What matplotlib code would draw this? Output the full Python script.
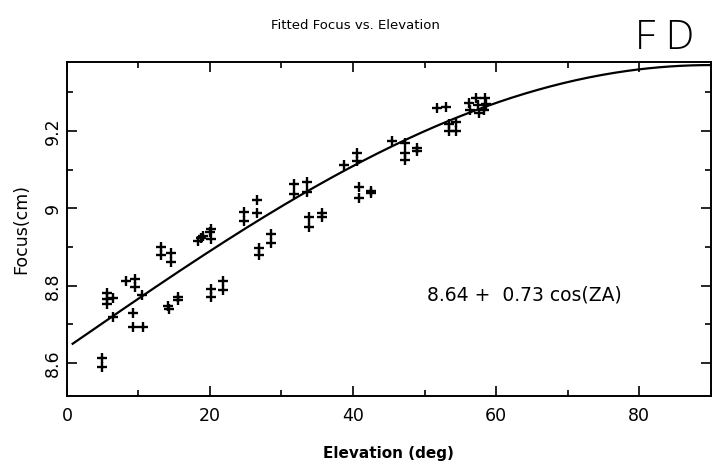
import numpy as np
import matplotlib
matplotlib.use('Agg')
import matplotlib.pyplot as plt
from matplotlib.ticker import MultipleLocator

# measured focus positions (elevation in deg, focus in cm)
elev = [4.9, 4.9,
        5.6, 5.6, 5.6, 6.4, 6.4,
        8.3, 9.5, 9.5, 10.5,
        9.3, 9.3, 10.6,
        13.1, 13.1, 14.5, 14.5,
        14.2, 14.3, 15.6, 15.6,
        18.3, 18.7, 19.0, 20.0, 20.2, 20.2,
        20.1, 20.1, 21.8, 21.8,
        24.8, 24.8, 26.6, 26.6,
        26.9, 26.9, 28.6, 28.6,
        31.8, 31.8, 33.6, 33.6,
        33.9, 33.9, 35.6, 35.6,
        38.8, 40.6, 40.6,
        40.9, 40.9, 42.5, 42.5,
        45.5, 47.3, 47.3, 47.3, 49.0, 49.0,
        51.7, 53.0, 53.4, 53.4, 54.4, 54.4,
        56.2, 56.3, 57.2, 57.5, 58.5, 58.6, 57.6, 58.3]
focus = [8.613, 8.590,
         8.781, 8.765, 8.752, 8.768, 8.719,
         8.813, 8.818, 8.797, 8.776,
         8.729, 8.693, 8.693,
         8.899, 8.879, 8.884, 8.861,
         8.747, 8.740, 8.770, 8.763,
         8.915, 8.923, 8.928, 8.938, 8.946, 8.920,
         8.791, 8.770, 8.811, 8.788,
         8.990, 8.966, 9.021, 8.987,
         8.897, 8.879, 8.933, 8.910,
         9.062, 9.036, 9.067, 9.041,
         8.977, 8.953, 8.987, 8.977,
         9.111, 9.142, 9.121,
         9.054, 9.026, 9.046, 9.039,
         9.175, 9.168, 9.142, 9.124, 9.155, 9.147,
         9.259, 9.261, 9.219, 9.199, 9.222, 9.199,
         9.271, 9.255, 9.286, 9.268, 9.286, 9.270, 9.245, 9.255]

# fit: focus = a + b cos(ZA), ZA = 90 - elevation
fit_a = 8.64
fit_b = 0.73

fig = plt.figure(figsize=(7.12, 4.66), dpi=100)
ax = fig.add_axes([0.094, 0.150, 0.904, 0.717])

el = np.linspace(0.8, 90, 300)
ax.plot(el, fit_a + fit_b*np.cos(np.radians(90 - el)), color='black', lw=1.6)
ax.plot(elev, focus, ls='none', marker='+', ms=7, mew=1.7, color='black')

ax.set_xlim(0, 90)
ax.set_ylim(8.515, 9.378)
ax.xaxis.set_major_locator(MultipleLocator(20))
ax.xaxis.set_minor_locator(MultipleLocator(10))
ax.yaxis.set_major_locator(MultipleLocator(0.2))
ax.yaxis.set_minor_locator(MultipleLocator(0.1))
ax.yaxis.set_major_formatter(lambda v, p: '{:g}'.format(round(v, 2)))
ax.tick_params(which='both', direction='in', top=True, right=True, width=1.2)
ax.tick_params(which='major', length=7, labelsize=12.5)
ax.tick_params(which='minor', length=4)
ax.tick_params(axis='x', pad=8)
for lab in ax.get_yticklabels():
    lab.set_rotation(90)
    lab.set_va('center')
for sp in ax.spines.values():
    sp.set_linewidth(1.4)

ax.set_xlabel('Elevation (deg)', fontsize=11, fontweight='bold', labelpad=15)
ax.set_ylabel('Focus(cm)', fontsize=12.5, labelpad=10)
ax.text(0.559, 0.302, '8.64 +  0.73 cos(ZA)', transform=ax.transAxes,
        fontsize=13.5, va='center', ha='left')

fig.text(0.499, 0.946, 'Fitted Focus vs. Elevation', fontsize=9.5, ha='center', va='center')
fig.text(0.933, 0.918, 'F D', fontsize=29, family='Open Sans', fontweight='light',
         ha='center', va='center')

fig.savefig('out.png', dpi=100)
